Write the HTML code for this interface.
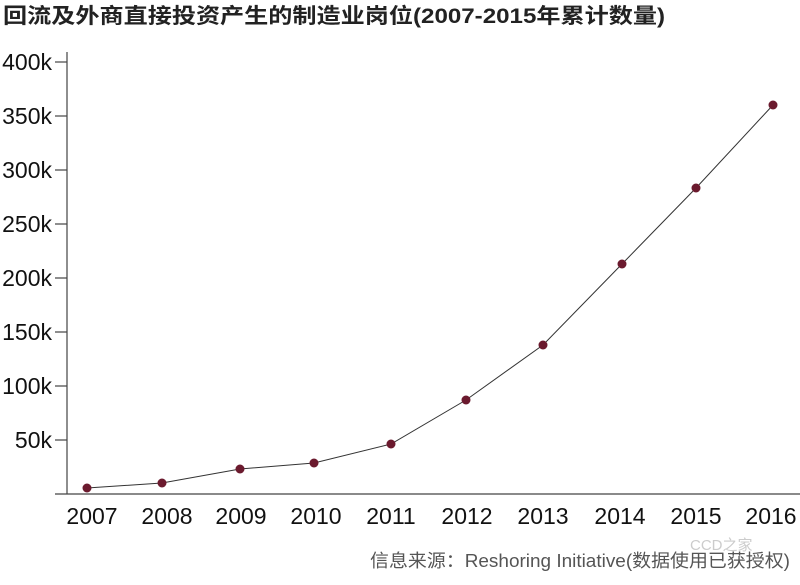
<!DOCTYPE html>
<html><head><meta charset="utf-8"><style>
body{margin:0;background:#fff;width:800px;height:580px;overflow:hidden}
</style></head><body>
<svg width="800" height="580" xmlns="http://www.w3.org/2000/svg" font-family="'Liberation Sans','Noto Sans CJK SC',sans-serif">
<text x="3" y="23" font-size="21" font-weight="bold" fill="#222" textLength="662" lengthAdjust="spacingAndGlyphs">回流及外商直接投资产生的制造业岗位(2007-2015年累计数量)</text>
<g stroke="#444" stroke-width="1.2">
<line x1="67" y1="52" x2="67" y2="494"/>
<line x1="55" y1="494" x2="800" y2="494"/>
<line x1="55" y1="62" x2="67" y2="62"/>
<line x1="55" y1="116" x2="67" y2="116"/>
<line x1="55" y1="170" x2="67" y2="170"/>
<line x1="55" y1="224" x2="67" y2="224"/>
<line x1="55" y1="278" x2="67" y2="278"/>
<line x1="55" y1="332" x2="67" y2="332"/>
<line x1="55" y1="386" x2="67" y2="386"/>
<line x1="55" y1="440" x2="67" y2="440"/>
</g>
<g font-size="23" fill="#111" text-anchor="end">
<text x="52" y="70">400k</text><text x="52" y="124">350k</text><text x="52" y="178">300k</text><text x="52" y="232">250k</text><text x="52" y="286">200k</text><text x="52" y="340">150k</text><text x="52" y="394">100k</text><text x="52" y="448">50k</text>
</g>
<g font-size="23" fill="#111" text-anchor="middle">
<text x="92" y="524">2007</text><text x="167" y="524">2008</text><text x="241" y="524">2009</text><text x="316" y="524">2010</text><text x="391" y="524">2011</text><text x="467" y="524">2012</text><text x="543" y="524">2013</text><text x="620" y="524">2014</text><text x="696" y="524">2015</text><text x="771" y="524">2016</text>
</g>
<polyline fill="none" stroke="#333" stroke-width="1" points="87,488 162,483 240,469 314,463 391,444 466,400 543,345 622,264 696,188 773,105"/>
<g fill="#6b1a2e">
<circle cx="87" cy="488" r="4.5"/><circle cx="162" cy="483" r="4.5"/><circle cx="240" cy="469" r="4.5"/><circle cx="314" cy="463" r="4.5"/><circle cx="391" cy="444" r="4.5"/><circle cx="466" cy="400" r="4.5"/><circle cx="543" cy="345" r="4.5"/><circle cx="622" cy="264" r="4.5"/><circle cx="696" cy="188" r="4.5"/><circle cx="773" cy="105" r="4.5"/>
</g>
<text x="370" y="567" font-size="18" fill="#555" textLength="420" lengthAdjust="spacingAndGlyphs">信息来源：Reshoring Initiative(数据使用已获授权)</text>
<text x="690" y="550" font-size="15" fill="#ccc">CCD之家</text>
</svg>
</body></html>
